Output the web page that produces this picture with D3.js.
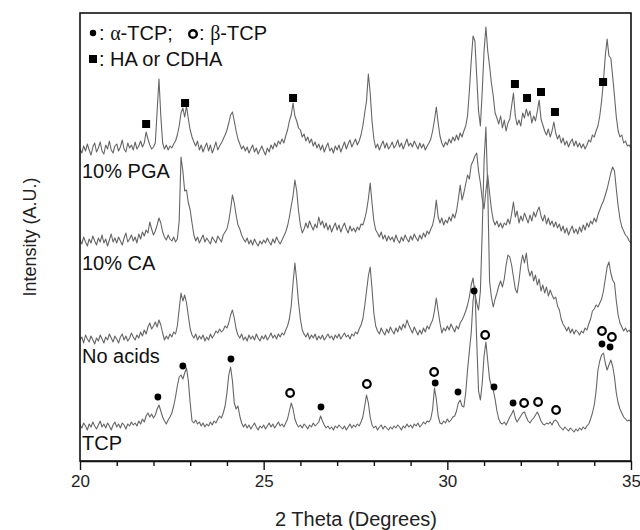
<!DOCTYPE html>
<html><head><meta charset="utf-8">
<script src="https://cdn.jsdelivr.net/npm/d3@7"></script>
<style>body{margin:0;background:#fff}svg{display:block}</style>
</head><body>
<svg id="chart" width="640" height="530"></svg>
<script>
// 2-theta sampling of the scans (degrees)
const thetaStart = 20, thetaStep = 0.05;

const seriesLabels = ["10% PGA", "10% CA", "No acids", "TCP"];

// Intensity (A.U., stacked), one value every 0.05 deg from 20 to 35
const pga = [
312,308,315,310,317,311,306,314,318,309,
313,319,310,307,316,312,320,311,308,315,
317,310,314,321,312,309,318,313,316,311,
319,312,315,320,314,318,329,322,316,312,
314,318,350,382,345,318,312,316,311,315,
313,317,320,326,335,348,353,344,355,342,
331,324,319,315,320,311,316,309,314,318,
310,316,308,313,319,311,315,318,322,326,
331,338,346,349,340,330,322,317,312,315,
310,314,308,312,316,309,313,307,311,315,
310,306,313,309,316,312,318,314,320,317,
322,318,325,331,340,346,358,345,340,333,
331,324,327,320,324,318,322,315,319,313,
317,311,316,309,314,318,310,313,308,315,
311,316,309,314,319,312,317,321,314,318,
322,316,320,326,335,348,360,387,368,340,
322,313,317,311,316,320,313,318,312,315,
319,313,316,321,314,318,312,317,322,315,
318,314,320,316,312,318,313,317,311,315,
318,322,330,341,354,338,325,318,314,319,
316,322,318,324,320,326,321,328,324,330,
335,345,370,400,425,420,385,350,335,370,
410,434,410,395,378,365,348,343,337,345,
333,341,330,338,342,355,368,345,336,341,
335,348,343,352,345,350,338,345,340,350,
361,342,336,330,326,332,324,330,339,328,
322,326,318,323,316,320,314,319,322,315,
320,314,318,313,317,312,316,321,319,326,
324,330,335,345,360,380,405,422,405,403,
385,365,344,330,324,326,318,320,315,316,313];

const ca = [
221,217,224,219,215,222,218,225,220,216,
223,219,226,218,222,215,221,227,219,223,
218,224,220,216,223,228,219,222,226,220,
224,218,227,222,229,225,231,228,239,232,
226,230,236,243,238,229,224,221,226,222,
220,224,219,222,240,304,290,270,271,258,
251,238,226,220,224,218,222,226,219,223,
220,217,224,221,218,225,222,219,226,229,
232,240,252,266,258,246,236,232,226,222,
219,223,217,221,216,222,218,215,220,217,
221,218,223,219,216,222,218,224,220,217,
221,225,229,235,244,255,265,281,270,250,
236,228,232,238,233,240,235,231,237,233,
244,236,240,233,238,231,236,229,234,238,
231,236,229,234,238,232,228,235,230,233,
229,234,231,237,236,242,250,262,278,258,
240,231,228,224,229,222,226,220,225,221,
224,219,226,221,218,224,220,226,222,219,
225,221,227,223,220,226,222,228,224,230,
227,232,236,245,261,244,238,243,236,241,
238,244,240,247,243,250,262,276,261,268,
277,286,282,296,300,305,308,290,278,262,
252,270,286,268,252,241,236,240,234,238,
233,238,236,242,237,247,259,244,250,238,
245,240,248,243,238,246,240,249,244,250,
254,245,240,246,237,243,236,240,234,239,
233,237,230,235,228,233,226,231,235,228,
232,227,234,229,236,231,238,234,240,237,
243,239,246,251,256,260,266,272,280,288,
294,290,272,255,242,234,230,226,224,220,218];

const noAcids = [
121,124,118,126,122,119,125,121,117,123,
120,126,122,118,124,121,127,123,119,125,
122,118,124,127,121,125,120,123,128,124,
121,126,123,129,125,131,127,134,138,132,
135,139,134,141,136,128,121,125,122,127,
124,129,127,135,152,168,160,166,158,145,
132,126,123,127,121,125,122,126,120,124,
121,127,123,126,130,128,132,129,131,135,
133,138,146,151,143,132,126,123,127,121,
124,120,126,122,125,121,127,123,120,125,
122,126,121,124,128,123,126,122,127,124,
128,126,131,135,142,155,178,198,180,158,
142,131,127,124,128,122,126,123,127,121,
125,122,126,121,124,127,123,125,121,126,
123,127,122,125,128,124,126,122,127,125,
129,127,132,136,142,155,170,185,194,172,
148,135,130,127,133,129,126,132,128,134,
130,127,133,129,135,131,137,133,141,136,
132,128,134,130,126,131,127,133,129,135,
132,137,141,150,163,150,138,128,133,130,
135,131,137,133,129,135,132,138,141,145,
150,156,164,176,183,168,158,151,170,230,
300,334,272,180,164,154,162,168,175,180,
174,182,196,206,204,196,184,172,168,180,
196,206,198,208,192,185,190,180,186,176,
182,170,176,168,174,165,171,166,162,164,
155,151,142,137,134,130,134,128,132,127,
131,129,126,130,128,133,131,137,142,150,
152,156,154,158,162,170,182,194,199,188,
181,178,160,146,138,134,130,133,129,131,128];

const tcp = [
36,33,38,35,31,37,34,39,35,32,
36,40,34,37,33,38,35,31,36,39,
34,37,33,38,36,32,37,35,39,36,
38,35,40,37,42,39,45,48,44,47,
43,46,52,56,50,44,40,37,41,44,
48,55,64,75,84,86,82,88,93,80,
58,40,38,41,37,39,35,38,34,37,
35,39,36,40,38,42,45,43,48,55,
68,86,94,80,58,52,55,45,38,34,
37,33,36,32,35,38,34,31,35,33,
36,32,35,38,34,37,33,36,39,35,
37,34,38,42,50,58,52,42,37,34,
36,33,37,35,32,36,34,38,35,37,
39,45,40,36,33,35,32,34,31,35,
33,36,34,32,35,31,34,37,33,36,
34,37,35,39,44,55,66,58,44,36,
33,35,31,34,36,32,35,33,31,34,
32,35,33,36,34,31,35,33,37,34,
36,33,37,35,38,34,36,39,37,40,
39,42,52,73,62,45,38,37,40,38,
42,39,41,44,45,50,58,61,55,54,
68,91,110,128,160,175,120,70,61,78,
105,119,100,82,75,71,62,50,42,38,
37,39,36,40,44,47,51,43,39,42,
45,48,49,44,40,38,41,43,46,49,
45,40,37,36,38,37,39,36,40,41,
39,35,33,31,34,32,30,33,31,29,
32,30,33,31,34,32,35,37,42,48,
56,70,91,100,106,108,98,91,96,101,
95,84,68,58,52,48,44,42,40,41,39];

// Phase markers [2theta, intensity]
const alphaTCP = [[22.12,64],[22.80,95],[24.11,102],[26.56,54],[29.67,78],[30.29,69],
  [30.73,170],[31.27,74],[31.79,58],[34.21,117],[34.43,114]];
const betaTCP = [[25.72,68],[27.81,77],[29.64,89],[31.03,126],[32.09,58],[32.47,59],
  [32.96,51],[34.21,130],[34.48,124]];
const haCDHA = [[21.80,337],[22.86,358],[25.80,363],[31.84,377],[32.17,363],[32.55,369],
  [32.93,349],[34.24,379]];

const xTicks = [20, 25, 30, 35];
const xMinorTicks = [21,22,23,24,26,27,28,29,31,32,33,34];

const svg = d3.select("#chart");
const x = d3.scaleLinear().domain([20, 35]).range([80, 631]);
const y = d3.scaleLinear().domain([0, 448]).range([461, 13]);
const sans = "'Liberation Sans', Arial, sans-serif";

const line = d3.line()
  .x((d, i) => x(thetaStart + i * thetaStep))
  .y(d => y(d));

[pga, ca, noAcids, tcp].forEach(s => {
  svg.append("path").attr("d", line(s))
    .attr("fill", "none").attr("stroke", "#666").attr("stroke-width", 1.1)
    .attr("stroke-linejoin", "round");
});

// markers
svg.append("g").selectAll("rect").data(haCDHA).join("rect")
  .attr("x", d => x(d[0]) - 4).attr("y", d => y(d[1]) - 4)
  .attr("width", 8).attr("height", 8).attr("fill", "#000");
svg.append("g").selectAll("circle").data(alphaTCP).join("circle")
  .attr("cx", d => x(d[0])).attr("cy", d => y(d[1])).attr("r", 3.4).attr("fill", "#000");
svg.append("g").selectAll("circle").data(betaTCP).join("circle")
  .attr("cx", d => x(d[0])).attr("cy", d => y(d[1])).attr("r", 3.8)
  .attr("fill", "#fff").attr("stroke", "#000").attr("stroke-width", 2.2);

// frame
svg.append("rect").attr("x", 80).attr("y", 13).attr("width", 551).attr("height", 448)
  .attr("fill", "none").attr("stroke", "#111").attr("stroke-width", 1.6);

// x axis
const gx = svg.append("g").attr("transform", "translate(0,461)");
gx.call(d3.axisBottom(x).tickValues(xTicks).tickSize(9).tickPadding(5).tickSizeOuter(0)
  .tickFormat(d3.format("d")));
gx.append("g").call(d3.axisBottom(x).tickValues(xMinorTicks).tickSize(5).tickFormat("").tickSizeOuter(0))
  .select(".domain").remove();
gx.selectAll("path.domain").attr("stroke", "#111").attr("stroke-width", 1.6);
gx.selectAll("line").attr("stroke", "#111").attr("stroke-width", 1.4);
gx.selectAll("text").attr("font-family", sans).attr("font-size", 17).attr("fill", "#222");

// axis titles
svg.append("text").attr("x", 356).attr("y", 526).attr("text-anchor", "middle")
  .attr("font-family", sans).attr("font-size", 20).attr("fill", "#222").text("2 Theta (Degrees)");
svg.append("text").attr("transform", "translate(36,237) rotate(-90)").attr("text-anchor", "middle")
  .attr("font-family", sans).attr("font-size", 18).attr("fill", "#222").text("Intensity (A.U.)");

// series labels
const labelBaselines = [178, 270, 363, 450];
seriesLabels.forEach((t, i) => {
  svg.append("text").attr("x", 82).attr("y", labelBaselines[i])
    .attr("font-family", sans).attr("font-size", 20).attr("fill", "#111").text(t);
});

// legend
svg.append("circle").attr("cx", 93).attr("cy", 33).attr("r", 3.2).attr("fill", "#000");
const t1 = svg.append("text").attr("x", 99).attr("y", 40).attr("font-family", sans)
  .attr("font-size", 20).attr("fill", "#111");
t1.append("tspan").text(": ");
t1.append("tspan").attr("font-family", "'Liberation Serif', serif").text("α");
t1.append("tspan").text("-TCP;");
svg.append("circle").attr("cx", 193).attr("cy", 34).attr("r", 3.8)
  .attr("fill", "#fff").attr("stroke", "#000").attr("stroke-width", 2.4);
const t2 = svg.append("text").attr("x", 199).attr("y", 40).attr("font-family", sans)
  .attr("font-size", 20).attr("fill", "#111");
t2.append("tspan").text(": ");
t2.append("tspan").attr("font-family", "'Liberation Serif', serif").text("β");
t2.append("tspan").text("-TCP");
svg.append("rect").attr("x", 89).attr("y", 55).attr("width", 8).attr("height", 8).attr("fill", "#000");
svg.append("text").attr("x", 99).attr("y", 66).attr("font-family", sans)
  .attr("font-size", 20).attr("fill", "#111").text(": HA or CDHA");
</script>
</body></html>
